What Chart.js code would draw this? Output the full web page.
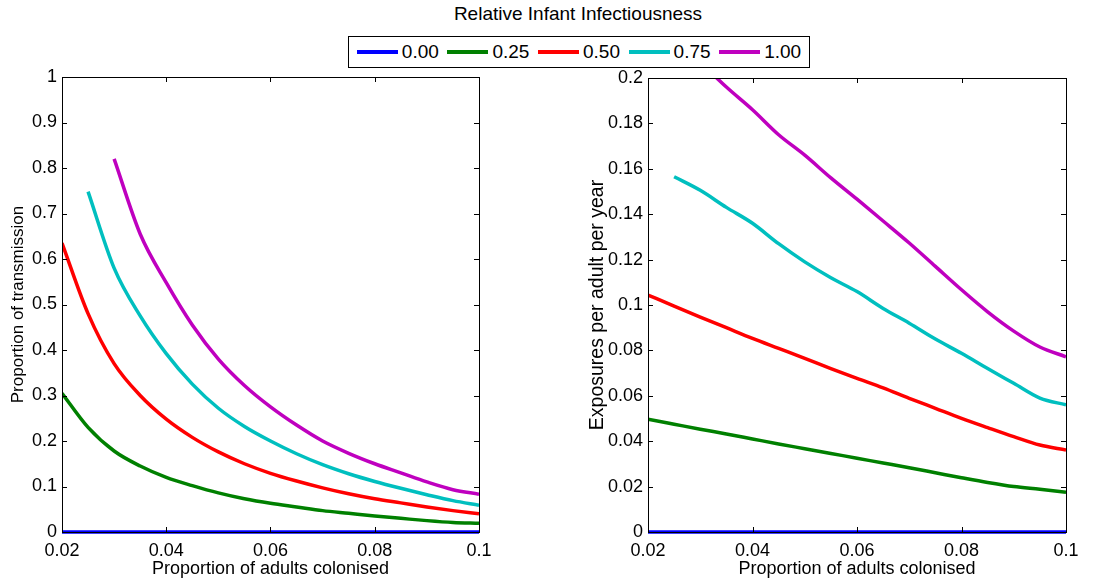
<!DOCTYPE html>
<html>
<head>
<meta charset="utf-8">
<script src="https://cdn.jsdelivr.net/npm/chart.js@4/dist/chart.umd.min.js"></script>
<style>
    body { margin: 0; background: #fff; font-family: "Liberation Sans", Arial, sans-serif; }
    #wrap { position: relative; width: 1119px; height: 585px; overflow: hidden; }
    canvas { position: absolute; top: 0; }
    #title { position: absolute; top: 3px; left: 378px; width: 400px; text-align: center; font-size: 19px; color: #000; white-space: nowrap; }
    #legend { position: absolute; left: 348px; top: 36px; width: 460px; height: 30px; border: 1px solid #000; background: #fff;
              display: flex; align-items: center; justify-content: center; gap: 8.6px; z-index: 2; font-size: 19px; }
    .item { display: flex; align-items: center; }
    .swatch { width: 41px; height: 3.5px; margin-right: 4px; }
</style>
</head>
<body>
<div id="wrap">
    <div id="title">Relative Infant Infectiousness</div>
    <div id="legend"></div>
    <canvas id="leftChart" style="left:0px"></canvas>
    <canvas id="rightChart" style="left:560px"></canvas>
</div>
<script>
const seriesLabels = ["0.00", "0.25", "0.50", "0.75", "1.00"]
const seriesColors = ["#0000ff", "#008000", "#ff0000", "#00bfbf", "#bf00bf"]

const xValues = [0.02, 0.025, 0.03, 0.035, 0.04, 0.045, 0.05, 0.055, 0.06, 0.065, 0.07, 0.075, 0.08, 0.085, 0.09, 0.095, 0.1]

// left: proportion of transmission
const leftBlue = [0, 0, 0, 0, 0, 0, 0, 0, 0, 0, 0, 0, 0, 0, 0, 0, 0]
const leftGreen = [0.305, 0.23, 0.178, 0.145, 0.12, 0.102, 0.086, 0.073, 0.063, 0.055, 0.047, 0.041, 0.035, 0.030, 0.025, 0.021, 0.019]
const leftRed = [0.635, 0.48, 0.37, 0.30, 0.248, 0.208, 0.176, 0.15, 0.129, 0.112, 0.097, 0.084, 0.073, 0.064, 0.055, 0.047, 0.04]
const leftCyan = [null, 0.748, 0.58, 0.475, 0.392, 0.325, 0.272, 0.232, 0.2, 0.172, 0.148, 0.128, 0.111, 0.096, 0.082, 0.069, 0.059]
const leftMagenta = [null, null, 0.82, 0.655, 0.548, 0.455, 0.38, 0.322, 0.275, 0.235, 0.2, 0.173, 0.15, 0.13, 0.11, 0.093, 0.083]

// right: exposures per adult per year
const rightBlue = [0, 0, 0, 0, 0, 0, 0, 0, 0, 0, 0, 0, 0, 0, 0, 0, 0]
const rightGreen = [0.0497, 0.0475, 0.0453, 0.0432, 0.041, 0.0388, 0.0367, 0.0346, 0.0325, 0.0304, 0.0283, 0.0261, 0.0239, 0.0218, 0.0200, 0.0188, 0.0175]
const rightRed = [0.1044, 0.0995, 0.0947, 0.09, 0.0853, 0.0809, 0.0765, 0.072, 0.0677, 0.0635, 0.0589, 0.0545, 0.0501, 0.046, 0.042, 0.0383, 0.0361]
const rightCyan = [null, 0.1565, 0.1505, 0.143, 0.136, 0.127, 0.119, 0.112, 0.1059, 0.0985, 0.092, 0.085, 0.0787, 0.072, 0.0655, 0.059, 0.056]
const rightMagenta = [null, null, 0.207, 0.196, 0.186, 0.175, 0.166, 0.156, 0.1466, 0.137, 0.1273, 0.117, 0.1067, 0.097, 0.0885, 0.0815, 0.0772]

const leftYTicks = [0, 0.1, 0.2, 0.3, 0.4, 0.5, 0.6, 0.7, 0.8, 0.9, 1]
const rightYTicks = [0, 0.02, 0.04, 0.06, 0.08, 0.1, 0.12, 0.14, 0.16, 0.18, 0.2]
const xTicks = [0.02, 0.04, 0.06, 0.08, 0.1]

const legend = document.getElementById("legend")
seriesLabels.forEach((label, i) => {
    legend.innerHTML += `<div class="item"><div class="swatch" style="background:${seriesColors[i]}"></div><span>${label}</span></div>`
})

function toPoints(values) {
    return xValues.map((x, i) => ({ x: x, y: values[i] })).filter(p => p.y !== null)
}

function fmt(v) {
    return String(Number(v.toFixed(3)))
}

// MATLAB style box with inward ticks on all four sides
const boxPlugin = {
    id: "box",
    afterDatasetsDraw(chart) {
        const ctx = chart.ctx
        const a = chart.chartArea
        const xs = chart.scales.x
        const ys = chart.scales.y
        ctx.save()
        ctx.strokeStyle = "#000"
        ctx.lineWidth = 1
        ctx.beginPath()
        xs.ticks.forEach(t => {
            const px = Math.round(xs.getPixelForValue(t.value)) + 0.5
            ctx.moveTo(px, a.bottom); ctx.lineTo(px, a.bottom - 5)
            ctx.moveTo(px, a.top); ctx.lineTo(px, a.top + 5)
        })
        ys.ticks.forEach(t => {
            const py = Math.round(ys.getPixelForValue(t.value)) + 0.5
            ctx.moveTo(a.left, py); ctx.lineTo(a.left + 5, py)
            ctx.moveTo(a.right, py); ctx.lineTo(a.right - 5, py)
        })
        ctx.stroke()
        ctx.strokeRect(Math.round(a.left) + 0.5, Math.round(a.top) + 0.5, Math.round(a.right - a.left), Math.round(a.bottom - a.top))
        ctx.restore()
    }
}

function makeChart(id, width, sets, yMax, yTicks, yTitle, yTitleSize, yTitlePad, yAxisWidth, pad) {
    const canvas = document.getElementById(id)
    canvas.width = width
    canvas.height = 585
    canvas.style.width = width + "px"
    canvas.style.height = "585px"
    return new Chart(canvas, {
        type: "line",
        data: {
            datasets: sets.map((vals, i) => ({
                label: seriesLabels[i],
                data: toPoints(vals),
                borderColor: seriesColors[i],
                backgroundColor: seriesColors[i],
                borderWidth: 3.5,
                pointRadius: 0,
                cubicInterpolationMode: "monotone",
                clip: i === 0 ? { left: 0, right: 0, top: 0, bottom: 4 } : undefined
            }))
        },
        options: {
            responsive: false,
            animation: false,
            maintainAspectRatio: false,
            layout: { padding: pad },
            plugins: { legend: { display: false }, tooltip: { enabled: false } },
            scales: {
                x: {
                    type: "linear",
                    min: 0.02,
                    max: 0.1,
                    afterBuildTicks: s => { s.ticks = xTicks.map(v => ({ value: v })) },
                    afterFit: s => { s.height = 53 },
                    grid: { display: false },
                    border: { display: false },
                    ticks: { color: "#000", font: { size: 18, family: "Liberation Sans" }, padding: 0, maxRotation: 0, callback: v => fmt(v) },
                    title: { display: true, text: "Proportion of adults colonised", color: "#000", font: { size: 18, family: "Liberation Sans" }, padding: { top: 0, bottom: 5 } }
                },
                y: {
                    min: 0,
                    max: yMax,
                    afterBuildTicks: s => { s.ticks = yTicks.map(v => ({ value: v })) },
                    afterFit: s => { s.width = yAxisWidth },
                    grid: { display: false, drawTicks: false },
                    border: { display: false },
                    ticks: { color: "#000", font: { size: 18, family: "Liberation Sans" }, padding: 5, callback: v => fmt(v) },
                    title: { display: true, text: yTitle, color: "#000", font: { size: yTitleSize, family: "Liberation Sans" }, padding: { top: yTitlePad, bottom: 0 } }
                }
            }
        },
        plugins: [boxPlugin]
    })
}

makeChart("leftChart", 560,
    [leftBlue, leftGreen, leftRed, leftCyan, leftMagenta],
    1, leftYTicks, "Proportion of transmission", 17, 8, 62,
    { left: 0, top: 77, right: 81, bottom: 0 })

makeChart("rightChart", 559,
    [rightBlue, rightGreen, rightRed, rightCyan, rightMagenta],
    0.2, rightYTicks, "Exposures per adult per year", 19.5, 26, 88,
    { left: 0, top: 78, right: 53, bottom: 0 })
</script>
</body>
</html>
